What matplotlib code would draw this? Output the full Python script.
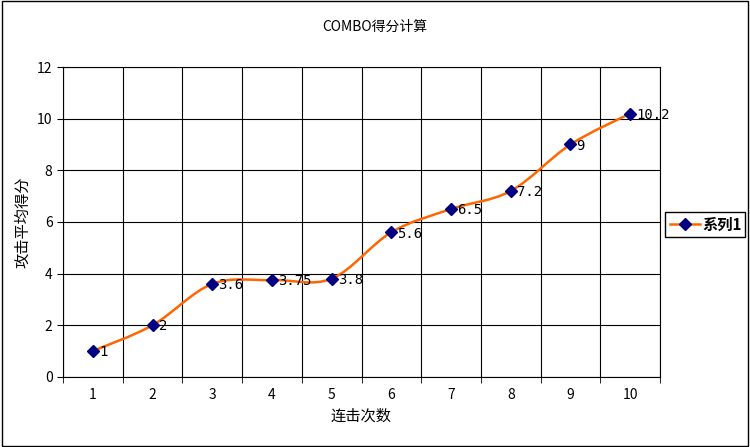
import numpy as np
import matplotlib.pyplot as plt
from matplotlib.path import Path
from matplotlib.patches import PathPatch, Rectangle
from matplotlib.lines import Line2D

plt.rcParams['font.family'] = ['Noto Sans CJK SC']

combo = [1, 2, 3, 4, 5, 6, 7, 8, 9, 10]
score = [1, 2, 3.6, 3.75, 3.8, 5.6, 6.5, 7.2, 9, 10.2]
labels = ['1', '2', '3.6', '3.75', '3.8', '5.6', '6.5', '7.2', '9', '10.2']

fig = plt.figure(figsize=(7.5, 4.47), dpi=100)
ax = fig.add_axes([0.084, 0.157, 0.796, 0.693])

# smoothed line (Catmull-Rom as Bezier, like Excel's smoothing)
x = np.array(combo, float)
y = np.array(score, float)
verts = [(x[0], y[0])]
codes = [Path.MOVETO]
t = 1 / 6
for i in range(len(x) - 1):
    p0 = i - 1 if i > 0 else i
    p3 = i + 2 if i + 2 < len(x) else i + 1
    c1 = (x[i] + (x[i + 1] - x[p0]) * t, y[i] + (y[i + 1] - y[p0]) * t)
    c2 = (x[i + 1] - (x[p3] - x[i]) * t, y[i + 1] - (y[p3] - y[i]) * t)
    verts += [c1, c2, (x[i + 1], y[i + 1])]
    codes += [Path.CURVE4] * 3
ax.add_patch(PathPatch(Path(verts, codes), fill=False, edgecolor='#ff6600', lw=1.8, zorder=3))
ax.plot(combo, score, 'D', color='#000080', ms=6, zorder=4)
for xi, yi, s in zip(combo, score, labels):
    ax.text(xi + 0.1, yi - 0.05, s, fontsize=10, family='DejaVu Sans Mono', va='center', ha='left')

ax.set_xlim(0.5, 10.5)
ax.set_ylim(0, 12)
ax.set_yticks(range(0, 13, 2))
ax.set_xticks(combo)
ax.set_xticks(np.arange(0.5, 11, 1), minor=True)
ax.grid(True, which='minor', axis='x', color='black', lw=0.8)
ax.grid(True, which='major', axis='y', color='black', lw=0.8)
ax.tick_params(which='major', axis='x', length=0, labelsize=10, pad=8)
ax.tick_params(which='minor', axis='x', length=4, direction='out')
ax.tick_params(axis='y', labelsize=10, length=4)
for s in ax.spines.values():
    s.set_color('black')
ax.set_xlabel('连击次数', fontsize=11)
ax.set_ylabel('攻击平均得分', fontsize=11)
fig.text(0.5, 0.94, 'COMBO得分计算', ha='center', va='center', fontsize=10)

# legend box
fig.patches.append(Rectangle((0.887, 0.47), 0.106, 0.056, transform=fig.transFigure,
                             fill=False, edgecolor='black', lw=1))
fig.lines.append(Line2D([0.893, 0.933], [0.498, 0.498], transform=fig.transFigure,
                        color='#ff6600', lw=1.8))
fig.lines.append(Line2D([0.913], [0.498], transform=fig.transFigure, marker='D',
                        color='#000080', ms=6))
fig.text(0.937, 0.498, '系列1', fontsize=11, fontweight='bold', va='center')

fig.patches.append(Rectangle((0.002, 0.003), 0.995, 0.994, transform=fig.transFigure,
                             fill=False, edgecolor='black', lw=1))
fig.savefig('out.png', dpi=100)
